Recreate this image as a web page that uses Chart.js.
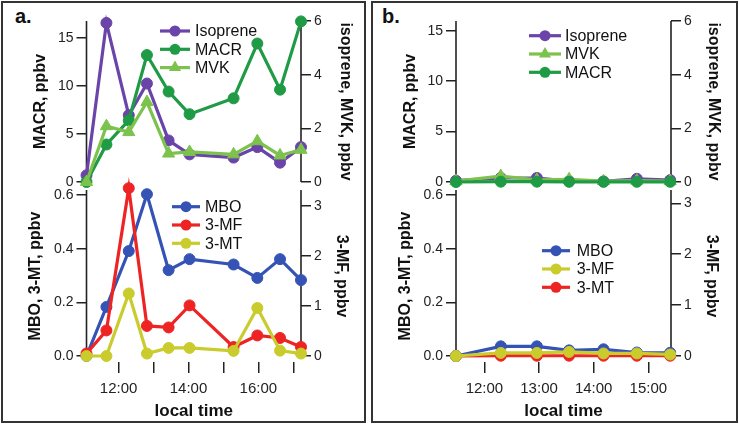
<!DOCTYPE html>
<html><head><meta charset="utf-8">
<script src="https://cdn.jsdelivr.net/npm/chart.js@4.4.0/dist/chart.umd.min.js"></script>
<style>
html,body{margin:0;padding:0;background:#fff;}
body{width:739px;height:425px;position:relative;overflow:hidden;font-family:"Liberation Sans",Arial,sans-serif;}
canvas{position:absolute;}
.panel{position:absolute;border:2px solid #333;box-sizing:border-box;}
.lab{position:absolute;font-weight:bold;font-size:20px;line-height:20px;color:#111;}
</style></head><body>
<div class="panel" style="left:1px;top:1px;width:365px;height:422px"></div>
<div class="panel" style="left:371px;top:1px;width:367px;height:422px"></div>
<div class="lab" style="left:15px;top:6px">a.</div>
<div class="lab" style="left:382px;top:6px">b.</div>
<canvas id="aTop" width="370" height="200" style="left:0;top:0"></canvas>
<canvas id="aBot" width="370" height="250" style="left:0;top:175px"></canvas>
<canvas id="bTop" width="369" height="200" style="left:370px;top:0"></canvas>
<canvas id="bBot" width="369" height="250" style="left:370px;top:175px"></canvas>
<script>
// ---------- data (local time in decimal hours) ----------
const timesA     = [11.08, 11.65, 12.29, 12.81, 13.43, 14.03, 15.29, 15.97, 16.62, 17.22];
const isopreneA  = [0.25, 5.93, 2.49, 3.67, 1.55, 1.03, 0.91, 1.30, 0.72, 1.30];   // ppbv (right)
const macrA      = [0.0, 3.9, 6.4, 13.2, 9.4, 7.05, 8.7, 14.4, 9.6, 16.7];         // ppbv (left)
const mvkA       = [0.0, 2.08, 1.86, 2.98, 1.06, 1.12, 1.03, 1.52, 0.99, 1.2];      // ppbv (right)
const mboA       = [0.0, 0.183, 0.391, 0.603, 0.32, 0.361, 0.341, 0.291, 0.361, 0.283]; // left
const mf3A       = [0.05, 0.51, 3.35, 0.6, 0.57, 1.01, 0.18, 0.41, 0.36, 0.18];     // right
const mt3A       = [0.0, 0.0, 0.233, 0.009, 0.03, 0.03, 0.019, 0.179, 0.02, 0.009]; // left

const timesB     = [11.48, 12.30, 12.96, 13.55, 14.18, 14.79, 15.40];
const isopreneB  = [0.05, 0.15, 0.15, 0.03, 0.02, 0.12, 0.07];
const mvkB       = [0.03, 0.22, 0.08, 0.10, 0.03, 0.05, 0.03];
const macrB      = [0.0, 0.03, 0.03, 0.02, 0.02, 0.02, 0.02];
const mboB       = [0.0, 0.036, 0.036, 0.021, 0.025, 0.013, 0.012];
const mf3B       = [0.0, 0.06, 0.06, 0.08, 0.05, 0.05, 0.03];
const mt3B       = [0.0, 0.001, 0.001, 0.001, 0.001, 0.001, 0.001];

// tick values
const hourTicksA   = [12, 13, 14, 15, 16, 17];
const hourLabelsA  = [12, 14, 16];
const hourTicksB   = [12, 13, 14, 15];
const hourLabelsB  = [12, 13, 14, 15];
const macrTicks    = [0, 5, 10, 15];
const isoTicks     = [0, 2, 4, 6];
const mboTicks     = [0, 0.2, 0.4, 0.6];
const mfTicks      = [0, 1, 2, 3];

// ---------- styling ----------
const FONT = '"Liberation Sans", Arial, sans-serif';
const C = {iso:'#6A44A8', macr:'#1F9A45', mvk:'#7CC24C', mbo:'#3553B4', mf:'#EE2424', mt:'#C9CC2C'};
const INK = '#222';

function pts(xs, ys){ return xs.map((x,i)=>({x:x, y:ys[i]})); }
function ds(label, xs, ys, color, axis, order, style){
  return {label, data: pts(xs, ys), yAxisID: axis, order,
    borderColor: color, backgroundColor: color, borderWidth: 3.2,
    pointStyle: style || 'circle', pointRadius: style === 'triangle' ? 7 : 5.5,
    pointBorderWidth: 1, pointBorderColor: color, pointBackgroundColor: color,
    clip: false, tension: 0};
}
function yAxis(pos, min, max, ticks, fmt, title, titlePad, width){
  return {
    type: 'linear', position: pos, min, max,
    afterBuildTicks: s => { s.ticks = ticks.map(v => ({value: v})); },
    afterFit: s => { s.width = width; },
    border: {display: false},
    grid: {display: true, drawOnChartArea: false, drawTicks: true, tickLength: 10, color: INK, lineWidth: 1.5},
    ticks: {color: INK, font: {size: 14, family: FONT}, padding: 3, callback: v => fmt(v)},
    title: {display: true, text: title, color: '#111', font: {size: 16, weight: 'bold', family: FONT},
            padding: {top: titlePad, bottom: 0}}
  };
}
function xAxis(min, max, tickVals, labelVals, show){
  if (!show) return {type: 'linear', min, max, display: false};
  return {
    type: 'linear', position: 'bottom', min, max,
    afterBuildTicks: s => { s.ticks = tickVals.map(v => ({value: v})); },
    afterFit: s => { s.height = 63; },
    border: {display: false},
    grid: {display: true, drawOnChartArea: false, drawTicks: true, tickLength: 11, color: INK, lineWidth: 1.5},
    ticks: {color: INK, font: {size: 15, family: FONT}, padding: 7, maxRotation: 0, autoSkip: false,
            callback: v => labelVals.includes(v) ? v + ':00' : ''},
    title: {display: true, text: 'local time', color: '#111', font: {size: 17, weight: 'bold', family: FONT},
            padding: {top: 0, bottom: 3}}
  };
}

const axisLines = {
  id: 'axisLines',
  beforeDatasetsDraw(chart){
    const {ctx, chartArea} = chart;
    ctx.save(); ctx.strokeStyle = INK; ctx.lineWidth = 1.6;
    ['yL', 'yR'].forEach(id => {
      const s = chart.scales[id];
      const x = s.position === 'left' ? s.right : s.left;
      ctx.beginPath(); ctx.moveTo(x, chartArea.top); ctx.lineTo(x, s.getPixelForValue(0)); ctx.stroke();
    });
    ctx.restore();
  }
};
const lineLegend = {
  id: 'lineLegend',
  afterDatasetsDraw(chart, args, o){
    const ctx = chart.ctx;
    ctx.save();
    chart.data.datasets.forEach((d, i) => {
      const y = o.y + i * o.dy;
      ctx.strokeStyle = d.borderColor; ctx.fillStyle = d.borderColor; ctx.lineWidth = 3.2;
      ctx.beginPath(); ctx.moveTo(o.cx - o.half, y); ctx.lineTo(o.cx + o.half, y); ctx.stroke();
      ctx.beginPath();
      if (d.pointStyle === 'triangle') {
        const r = 7;
        for (let k = 0; k < 3; k++) {
          const a = k * 2 * Math.PI / 3;
          const px = o.cx + Math.sin(a) * r, py = y - Math.cos(a) * r;
          k ? ctx.lineTo(px, py) : ctx.moveTo(px, py);
        }
        ctx.closePath();
      } else {
        ctx.arc(o.cx, y, 5.5, 0, Math.PI * 2);
      }
      ctx.fill();
      ctx.fillStyle = '#111';
      ctx.font = '16px ' + FONT; ctx.textBaseline = 'middle'; ctx.textAlign = 'left';
      ctx.fillText(d.label, o.cx + o.textOff, y + 1);
    });
    ctx.restore();
  }
};

function make(id, datasets, scales, padding, legend){
  return new Chart(document.getElementById(id), {
    type: 'line',
    data: {datasets},
    options: {
      responsive: false, animation: false, devicePixelRatio: 1, events: [],
      layout: {padding},
      scales,
      plugins: {legend: {display: false}, tooltip: {enabled: false}, lineLegend: legend}
    },
    plugins: [axisLines, lineLegend]
  });
}

const fmtInt = v => String(v);
const fmt1 = v => v.toFixed(1);

// panel a, top
make('aTop', [
  ds('Isoprene', timesA, isopreneA, C.iso, 'yR', 3),
  ds('MACR', timesA, macrA, C.macr, 'yL', 2),
  ds('MVK', timesA, mvkA, C.mvk, 'yR', 1, 'triangle')
], {
  x: xAxis(11.08, 17.22, hourTicksA, hourLabelsA, false),
  yL: yAxis('left', 0, 16.74, macrTicks, fmtInt, 'MACR, ppbv', 31.4, 86.5),
  yR: yAxis('right', 0, 6, isoTicks, fmtInt, 'isoprene, MVK, ppbv', 15.1, 69)
}, {top: 21, bottom: 18, left: 0, right: 0}, {cx: 175, y: 31, dy: 18.3, half: 15, textOff: 20});

// panel a, bottom
make('aBot', [
  ds('MBO', timesA, mboA, C.mbo, 'yL', 3),
  ds('3-MF', timesA, mf3A, C.mf, 'yR', 2),
  ds('3-MT', timesA, mt3A, C.mt, 'yL', 1)
], {
  x: xAxis(11.08, 17.22, hourTicksA, hourLabelsA, true),
  yL: yAxis('left', -0.02236, 0.61863, mboTicks, fmt1, 'MBO, 3-MT, ppbv', 26.4, 86.5),
  yR: yAxis('right', -0.11976, 3.3134, mfTicks, fmtInt, '3-MF, ppbv', 18.6, 69)
}, {top: 15, bottom: 0, left: 0, right: 0}, {cx: 186, y: 31.7, dy: 18.3, half: 14, textOff: 19});

// panel b, top
make('bTop', [
  ds('Isoprene', timesB, isopreneB, C.iso, 'yR', 3),
  ds('MVK', timesB, mvkB, C.mvk, 'yR', 2, 'triangle'),
  ds('MACR', timesB, macrB, C.macr, 'yL', 1)
], {
  x: xAxis(11.48, 15.415, hourTicksB, hourLabelsB, false),
  yL: yAxis('left', 0, 15.96, macrTicks, fmtInt, 'MACR, ppbv', 31.4, 86),
  yR: yAxis('right', 0, 6, isoTicks, fmtInt, 'isoprene, MVK, ppbv', 15.9, 68)
}, {top: 21, bottom: 18, left: 0, right: 0}, {cx: 175, y: 35.7, dy: 18.3, half: 16, textOff: 20});

// panel b, bottom
make('bBot', [
  ds('MBO', timesB, mboB, C.mbo, 'yL', 2),
  ds('3-MF', timesB, mf3B, C.mt, 'yR', 1),
  ds('3-MT', timesB, mt3B, C.mf, 'yL', 3)
], {
  x: xAxis(11.48, 15.415, hourTicksB, hourLabelsB, true),
  yL: yAxis('left', -0.02236, 0.61863, mboTicks, fmt1, 'MBO, 3-MT, ppbv', 26.4, 86),
  yR: yAxis('right', -0.1179, 3.2613, mfTicks, fmtInt, '3-MF, ppbv', 17.9, 68)
}, {top: 15, bottom: 0, left: 0, right: 0}, {cx: 186, y: 75.7, dy: 18.3, half: 14, textOff: 20.7});
</script>
</body></html>
